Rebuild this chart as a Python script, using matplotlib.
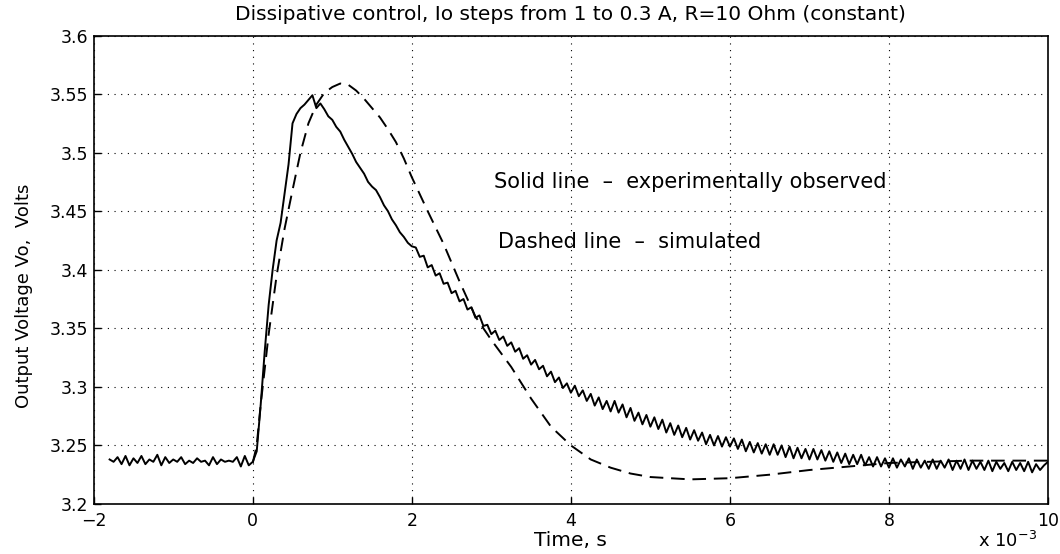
"""Dissipative control step response: measured vs simulated output voltage."""

import numpy as np
import matplotlib
matplotlib.use("Agg")
import matplotlib.pyplot as plt

plt.rcParams['font.family'] = ['DejaVu Sans']

# experimental trace, sampled every 0.05 ms starting at -1.8 ms
exp_t0, exp_dt = -1.8, 0.05
exp_v = [
    3.238, 3.236, 3.240, 3.234, 3.241, 3.233, 3.239, 3.235, 3.241, 3.234,
    3.238, 3.236, 3.242, 3.233, 3.240, 3.235, 3.238, 3.236, 3.240, 3.234,
    3.237, 3.235, 3.239, 3.236, 3.237, 3.233, 3.240, 3.234, 3.238, 3.236,
    3.237, 3.236, 3.240, 3.232, 3.241, 3.233, 3.236,
    # rise and peak (0.05 .. 2.00 ms)
    3.245, 3.285, 3.330, 3.370, 3.400, 3.425, 3.440, 3.465, 3.490, 3.525,
    3.533, 3.538, 3.541, 3.545, 3.549, 3.538, 3.542, 3.537, 3.531, 3.528,
    3.522, 3.518, 3.511, 3.505, 3.499, 3.492, 3.487, 3.482, 3.475, 3.471,
    3.468, 3.462, 3.455, 3.450, 3.443, 3.438, 3.432, 3.428, 3.423, 3.420,
    # decay with ripple (2.05 .. 10.00 ms)
    3.419, 3.411, 3.412, 3.402, 3.404, 3.395, 3.397, 3.388, 3.389, 3.380,
    3.382, 3.373, 3.375, 3.366, 3.368, 3.359, 3.361, 3.352, 3.353, 3.345,
    3.348, 3.340, 3.343, 3.335, 3.338, 3.330, 3.333, 3.324, 3.327, 3.319,
    3.323, 3.315, 3.318, 3.309, 3.313, 3.304, 3.308, 3.299, 3.303, 3.295,
    3.301, 3.292, 3.297, 3.288, 3.294, 3.284, 3.291, 3.281, 3.288, 3.279,
    3.288, 3.278, 3.285, 3.274, 3.282, 3.271, 3.278, 3.268, 3.276, 3.266,
    3.274, 3.264, 3.272, 3.261, 3.269, 3.259, 3.267, 3.257, 3.265, 3.255,
    3.263, 3.254, 3.261, 3.251, 3.259, 3.250, 3.258, 3.249, 3.257, 3.249,
    3.256, 3.247, 3.255, 3.245, 3.253, 3.244, 3.252, 3.243, 3.251, 3.242,
    3.251, 3.242, 3.250, 3.240, 3.249, 3.239, 3.248, 3.239, 3.247, 3.238,
    3.247, 3.238, 3.246, 3.237, 3.245, 3.236, 3.244, 3.235, 3.243, 3.234,
    3.242, 3.234, 3.242, 3.233, 3.240, 3.232, 3.240, 3.232, 3.239, 3.231,
    3.239, 3.231, 3.238, 3.232, 3.239, 3.230, 3.238, 3.231, 3.237, 3.230,
    3.238, 3.230, 3.237, 3.231, 3.238, 3.229, 3.237, 3.230, 3.238, 3.229,
    3.237, 3.230, 3.236, 3.229, 3.237, 3.228, 3.236, 3.230, 3.235, 3.228,
    3.236, 3.229, 3.235, 3.228, 3.236, 3.227, 3.234, 3.229, 3.233, 3.236,
]
exp_t = exp_t0 + exp_dt * np.arange(len(exp_v))

# simulated trace (ms, V)
sim_t = [0.0, 0.05, 0.1, 0.2, 0.3, 0.4, 0.5, 0.6, 0.7, 0.8, 0.9, 1.0, 1.1,
         1.2, 1.3, 1.4, 1.5, 1.6, 1.7, 1.8, 1.9, 2.0, 2.2, 2.4, 2.6, 2.8,
         3.0, 3.25, 3.5, 3.75, 4.0, 4.25, 4.5, 4.75, 5.0, 5.5, 6.0, 6.5,
         7.0, 7.5, 8.0, 8.5, 9.0, 9.5, 10.0]
sim_v = [3.235, 3.250, 3.285, 3.345, 3.395, 3.435, 3.468, 3.500, 3.525,
         3.541, 3.551, 3.556, 3.559, 3.558, 3.553, 3.546, 3.538, 3.530,
         3.520, 3.509, 3.495, 3.479, 3.450, 3.422, 3.390, 3.360, 3.340,
         3.317, 3.290, 3.266, 3.250, 3.238, 3.231, 3.226, 3.223, 3.221,
         3.222, 3.225, 3.229, 3.232, 3.235, 3.236, 3.237, 3.237, 3.237]

xticks = [-2, 0, 2, 4, 6, 8, 10]
yticks = [3.2, 3.25, 3.3, 3.35, 3.4, 3.45, 3.5, 3.55, 3.6]
ylabels = ['3.2', '3.25', '3.3', '3.35', '3.4', '3.45', '3.5', '3.55', '3.6']

fig = plt.figure(figsize=(10.6, 5.54), dpi=100)
ax = fig.add_axes([0.0884, 0.0903, 0.9003, 0.8456])

ax.plot(exp_t, exp_v, color='black', lw=1.4)
ax.plot(sim_t, sim_v, color='black', lw=1.4, dashes=(7, 4))

ax.set_xlim(-2, 10)
ax.set_ylim(3.2, 3.6)
ax.set_xticks(xticks)
ax.set_xticklabels([str(v).replace('-', '\u2212') for v in xticks])
ax.set_yticks(yticks)
ax.set_yticklabels(ylabels)
ax.tick_params(direction='in', length=5, labelsize=12.5, width=1)
ax.tick_params(axis='x', pad=6)
ax.tick_params(axis='y', pad=4)
ax.grid(True, color='black', linestyle=(0, (1, 5)), linewidth=0.8)
for s in ax.spines.values():
    s.set_linewidth(1.2)

ax.set_title('Dissipative control, Io steps from 1 to 0.3 A, R=10 Ohm (constant)',
             fontsize=14.5, pad=11)
ax.set_xlabel('Time, s', fontsize=14.5)
ax.xaxis.set_label_coords(0.5, -0.058)
ax.set_ylabel('Output Voltage Vo,  Volts', fontsize=13)
ax.yaxis.set_label_coords(-0.064, 0.444)

ax.text(3.03, 3.470, 'Solid line  \u2013  experimentally observed',
        fontsize=15, va='baseline')
ax.text(3.085, 3.4185, 'Dashed line  \u2013  simulated', fontsize=15,
        va='baseline')

fig.text(0.923, 0.012, r'x 10$^{-3}$', fontsize=13, va='baseline')

fig.savefig('out.png', dpi=100)
